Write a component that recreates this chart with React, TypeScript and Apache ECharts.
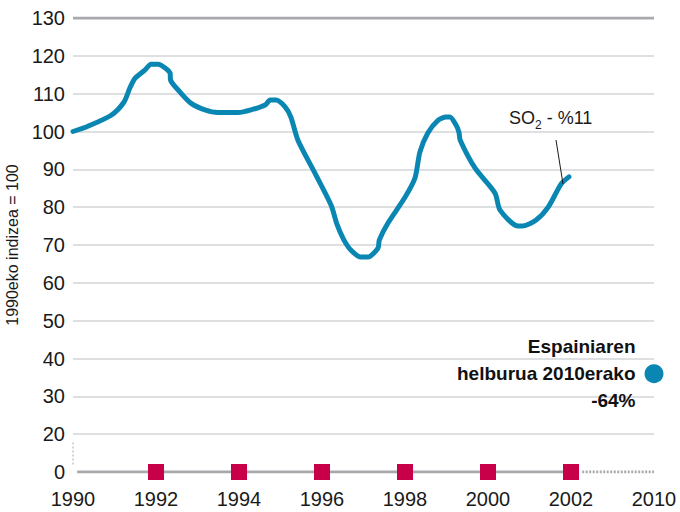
import React, { useEffect, useRef } from "react";
import * as echarts from "echarts";

// SO2 index (1990 = 100)
const lineYears = [
  1990, 1990.36, 1990.92, 1991.23, 1991.37, 1991.49, 1991.73, 1991.88, 1992.05, 1992.22,
  1992.34, 1992.35, 1992.58, 1992.84, 1993.18, 1993.49, 1993.98, 1994.29, 1994.63, 1994.75,
  1994.89, 1995.11, 1995.25, 1995.42, 1995.83, 1996.22, 1996.36, 1996.52, 1996.7, 1996.94,
  1997.11, 1997.35, 1997.38, 1997.59, 1998.0, 1998.24, 1998.36, 1998.55, 1998.8, 1998.99,
  1999.08, 1999.23, 1999.3, 1999.33, 1999.69, 2000.17, 2000.29, 2000.72, 2000.84, 2001.16,
  2001.45, 2001.76, 2001.95,
];
const lineValues = [
  100, 101.4, 104.3, 107.8, 111.5, 114, 116.2, 117.8, 117.8, 116.8,
  115.4, 113.6, 110.4, 107.5, 105.7, 105, 105, 105.7, 107, 108.3,
  108.3, 106.5, 103.8, 97.7, 89, 80.5, 75.5, 71.5, 68.6, 66.8,
  66.8, 69.2, 71.3, 75.8, 82.6, 87.7, 94.6, 99.6, 103, 103.8,
  103.8, 101.7, 99.8, 97.7, 90.3, 83.7, 79.2, 75, 75, 76.6,
  80, 86.1, 88,
];

// axis: value 10 stands for the broken "0" baseline, 2004 stands for 2010
const xMin = 1990;
const xMax = 2004;
const yMin = 10;
const yMax = 130;
const zeroPos = 10;
const lastDataYear = 2002;
const targetSlot = 2004;
const targetValue = 36;
const markerYears = [1992, 1994, 1996, 1998, 2000, 2002];
const xTickLabels: Record<number, string> = {
  1990: "1990", 1992: "1992", 1994: "1994", 1996: "1996",
  1998: "1998", 2000: "2000", 2002: "2002", 2004: "2010",
};
const targetText = ["Espainiaren", "helburua 2010erako", "-64%"];
const yAxisTitle = "1990eko indizea = 100";

const BLUE = "#0a86b3";
const RED = "#c8004a";
const GRAY = "#a7a9ac";
const LIGHT = "#dedfe0";
const FONT = "Liberation Sans, Arial, sans-serif";

export default function App() {
  const ref = useRef<HTMLDivElement>(null);
  useEffect(() => {
    if (!ref.current) return;
    const chart = echarts.init(ref.current, null, { renderer: "svg" });
    const lineData = lineYears.map((y, i) => [y, lineValues[i]]);
    chart.setOption({
      animation: false,
      backgroundColor: "#ffffff",
      grid: {
        left: 73, right: 26, top: 18, bottom: 40,
        containLabel: false,
        outerBoundsMode: "none",
      },
      xAxis: {
        type: "value",
        min: xMin,
        max: xMax,
        interval: 2,
        axisLine: { show: false },
        axisTick: { show: false },
        splitLine: { show: false },
        axisLabel: {
          margin: 17,
          fontSize: 20,
          fontFamily: FONT,
          color: "#1a1a1a",
          formatter: (v: number) => xTickLabels[v] ?? "",
        },
      },
      yAxis: {
        type: "value",
        min: yMin,
        max: yMax,
        interval: 10,
        name: yAxisTitle,
        nameLocation: "middle",
        nameGap: 48,
        nameTextStyle: { fontSize: 16, fontFamily: FONT, color: "#1a1a1a" },
        axisLine: { show: false },
        axisTick: { show: false },
        splitLine: {
          show: true,
          showMinLine: false,
          showMaxLine: false,
          lineStyle: { color: LIGHT, width: 2 },
        },
        axisLabel: {
          margin: 8,
          fontSize: 20,
          fontFamily: FONT,
          color: "#1a1a1a",
          formatter: (v: number) => (v === zeroPos ? "0" : String(v)),
        },
      },
      series: [
        {
          type: "line",
          name: "top",
          data: [[xMin, yMax], [xMax, yMax]],
          symbol: "none",
          silent: true,
          z: 1,
          lineStyle: { color: GRAY, width: 3 },
        },
        {
          type: "line",
          name: "base",
          data: [[xMin + 0.1, zeroPos], [lastDataYear, zeroPos]],
          symbol: "none",
          silent: true,
          z: 1,
          lineStyle: { color: GRAY, width: 3 },
        },
        {
          type: "line",
          name: "baseDotted",
          data: [[lastDataYear + 0.27, zeroPos], [xMax, zeroPos]],
          symbol: "none",
          silent: true,
          z: 1,
          lineStyle: { color: GRAY, width: 3, type: [2, 1.5] },
        },
        {
          type: "line",
          name: "break",
          data: [[xMin, 12], [xMin, 18]],
          symbol: "none",
          silent: true,
          z: 1,
          lineStyle: { color: "#d4d5d6", width: 2, type: [2, 2] },
        },
        {
          type: "line",
          name: "SO2",
          data: lineData,
          symbol: "none",
          smooth: 0.25,
          z: 3,
          lineStyle: { color: BLUE, width: 5, cap: "round", join: "round" },
        },
        {
          type: "scatter",
          name: "markers",
          data: markerYears.map((y) => [y, zeroPos]),
          symbol: "rect",
          symbolSize: 16,
          z: 4,
          itemStyle: { color: RED, opacity: 1 },
        },
        {
          type: "scatter",
          name: "target",
          data: [[targetSlot, targetValue]],
          symbol: "circle",
          symbolSize: 19,
          z: 4,
          itemStyle: { color: BLUE, opacity: 1 },
          label: {
            show: true,
            position: "left",
            distance: 9,
            formatter: () => targetText.join("\n"),
            fontSize: 19,
            fontWeight: "bold",
            fontFamily: FONT,
            color: "#111111",
            lineHeight: 27,
            align: "right",
          },
        },
      ],
      graphic: [
        {
          type: "text",
          left: 509,
          top: 109,
          style: {
            text: "{a|SO}{s|2}{a| - %11}",
            rich: {
              a: { fontSize: 18, fontFamily: FONT, fill: "#1a1a1a", verticalAlign: "bottom", lineHeight: 21 },
              s: { fontSize: 12, fontFamily: FONT, fill: "#1a1a1a", verticalAlign: "bottom", lineHeight: 12, padding: [0, 0, -4, 0] },
            },
          },
        },
        {
          type: "line",
          shape: { x1: 556, y1: 140, x2: 563, y2: 184 },
          style: { stroke: "#1a1a1a", lineWidth: 1 },
          z: 10,
        },
      ],
    });
    return () => chart.dispose();
  }, []);
  return (
    <div
      ref={ref}
      style={{ position: "fixed", left: 0, top: 0, width: 680, height: 512 }}
    />
  );
}
